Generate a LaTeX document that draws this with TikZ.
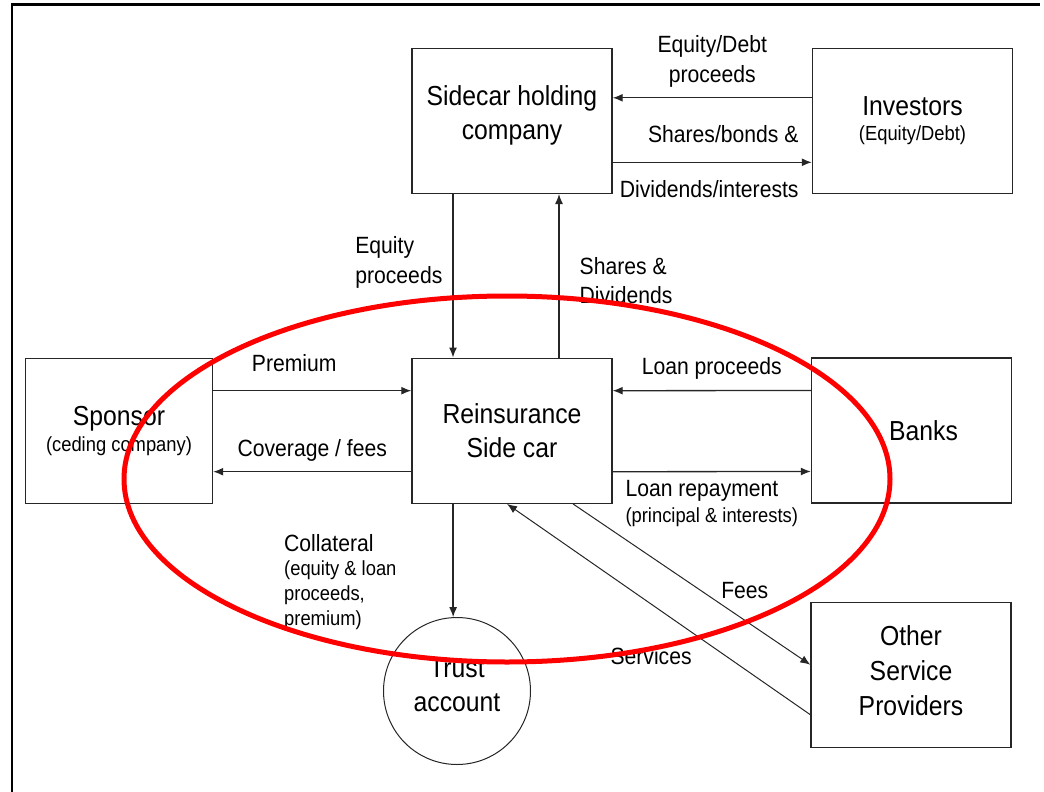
\documentclass[tikz,border=0pt]{standalone}
\usepackage{fontspec}
\setmainfont{Liberation Sans}[FakeStretch=0.9]
\usetikzlibrary{arrows.meta, positioning}

\newcommand{\boxsize}{\fontsize{27.5}{34}\selectfont}
\newcommand{\lblsize}{\fontsize{23.5}{29.5}\selectfont}
\newcommand{\subsize}{\fontsize{20.4}{25}\selectfont}

\begin{document}
\begin{tikzpicture}
		[
			x=1pt, y=-1pt,
			box/.style={rectangle, draw=black!85, line width=1.4pt, minimum width=200pt, minimum height=145pt, align=center, font=\boxsize},
			spbox/.style={box, minimum width=187pt},
			acct/.style={circle, draw=black!85, line width=1pt, minimum size=147pt, inner sep=0pt, align=center, font=\boxsize},
			flow/.style={draw=black!85, line width=1.3pt, -{Latex[length=10pt, width=8pt]}},
			thin flow/.style={flow, line width=1pt},
			lbl/.style={font=\lblsize, align=center, inner sep=3pt},
		]

		\useasboundingbox (0,0) rectangle (1044,792);
		\draw[line width=2.2pt] (11.7,792) -- (11.7,4.5) -- (1040,4.5);

		% Nodes
		\node[box] (hold) at (512,120.8) {Sidecar holding\\company\\[-17pt]\mbox{}};
		\node[box] (inv) at (912.5,120.8) {Investors\\[-9pt]{\subsize (Equity/Debt)}};
		\node[spbox] (spo) at (119,430.7) {Sponsor\\[-8pt]{\subsize (ceding company)}};
		\node[box] (rsc) at (512,430.7) {Reinsurance\\Side car};
		\node[box] (bank) at (911.5,430.5) {\hspace*{24pt}Banks};
		\node[box] (osp) at (911,674.7) {Other\\[1pt]Service\\[1pt]Providers\\[-26pt]\mbox{}};
		\node[acct] (trust) at (457,691) {Trust\\account\\[-22pt]\mbox{}};

		% Holding company and investors
		\draw[flow] ([yshift=23pt]inv.west) -- node[lbl, above=7pt] {Equity/Debt\\proceeds} ([yshift=23pt]hold.east);
		\draw[flow] ([yshift=-41.5pt]hold.east) -- node[lbl, above=16pt, xshift=11pt] {Shares/bonds \&} node[lbl, below=15pt, xshift=-3pt] {Dividends/interests} ([yshift=-41.5pt]inv.west);
		\draw[flow] ([xshift=-59pt]hold.south) -- node[lbl, left=7pt, align=left, pos=0.42] {Equity\\proceeds} ([xshift=-59pt]rsc.north);
		\draw[flow] ([xshift=47pt]rsc.north) -- node[lbl, right=17pt, align=left, pos=0.47] {Shares \&\\Dividends} ([xshift=47pt]hold.south);

		% Sponsor and banks
		\draw[flow] ([yshift=40pt]spo.east) -- node[lbl, above=15pt, xshift=-18pt] {Premium} ([yshift=40pt]rsc.west);
		\draw[flow] ([yshift=-41pt]rsc.west) -- node[lbl, above=7pt] {Coverage / fees} ([yshift=-41pt]spo.east);
		\draw[flow] ([yshift=40pt]bank.west) -- node[lbl, above=8pt] {Loan proceeds} ([yshift=40pt]rsc.east);
		\draw[flow] ([yshift=-41pt]rsc.east) -- node[lbl, below=5pt, align=left] {Loan repayment\\[-3.5pt]{\subsize (principal \& interests)}} ([yshift=-41pt]bank.west);

		% Trust account and service providers
		\draw[flow] (rsc.south -| trust.93) -- node[lbl, left=53pt, align=left, pos=0.69, font=\subsize] {{\lblsize Collateral}\\[-1pt](equity \& loan\\proceeds,\\premium)} (trust.93);
		\draw[thin flow] ([xshift=61pt]rsc.south) -- node[lbl, pos=0.61, above right] {Fees} ([yshift=10pt]osp.west);
		\draw[thin flow] ([yshift=-40pt]osp.west) -- node[lbl, pos=0.35, below left=3pt and 9pt] {Services} ([xshift=-5pt]rsc.south);

		% Highlight
		\draw[red, line width=5pt] (507,479) ellipse [x radius=383pt, y radius=183pt];

		\end{tikzpicture}
\end{document}
